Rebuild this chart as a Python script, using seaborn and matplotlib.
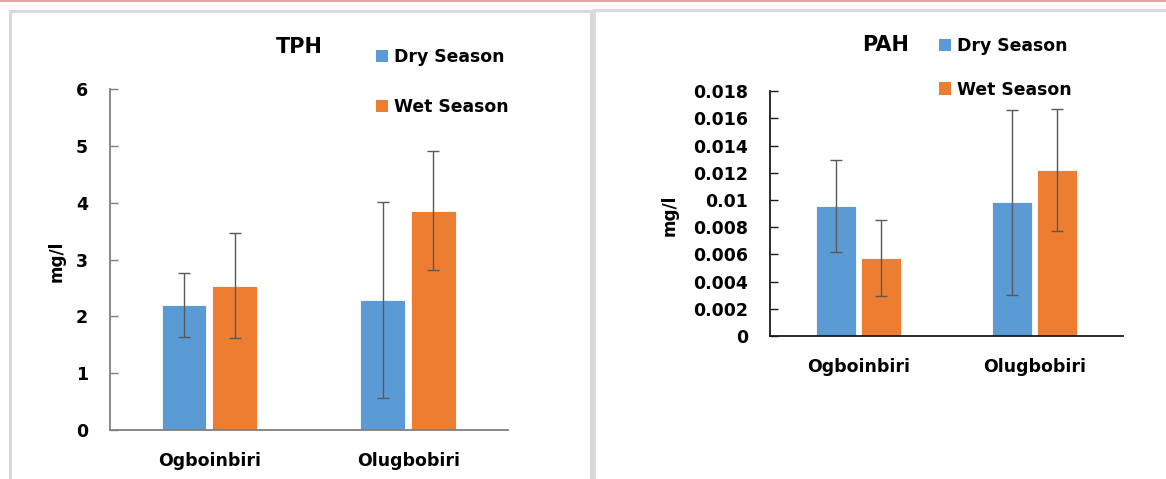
import matplotlib
matplotlib.use("Agg")
import matplotlib.pyplot as plt
from matplotlib.patches import Rectangle, Patch
from matplotlib.lines import Line2D
from matplotlib.ticker import FuncFormatter, MultipleLocator
import seaborn as sns
import pandas as pd

# ---- data ----
sites = ["Ogboinbiri", "Olugbobiri"]
seasons = ["Dry Season", "Wet Season"]

tph_dry = [2.20, 2.29]
tph_wet = [2.54, 3.86]
tph_dry_err = [0.56, 1.72]
tph_wet_err = [0.93, 1.05]

pah_dry = [0.00956, 0.00983]
pah_wet = [0.00576, 0.01221]
pah_dry_err = [0.0034, 0.0068]
pah_wet_err = [0.0028, 0.0045]

colors = ["#5B9BD5", "#ED7D31"]
font = "DejaVu Sans"

sns.set_theme(style="white")
plt.rcParams["font.family"] = [font]
plt.rcParams["font.weight"] = "bold"
plt.rcParams["text.color"] = "black"

W, H = 1166, 479
fig = plt.figure(figsize=(W / 100, H / 100), dpi=100)


def fx(px):
    return px / W


def fy(py):
    return 1 - py / H


# panel frames and top rule
frame_kw = dict(transform=fig.transFigure, fill=False, edgecolor="#d9d9d9",
                lw=2.2)
fig.patches.append(Rectangle((fx(9.5), fy(495)), fx(582), fy(11) - fy(495),
                             **frame_kw))
fig.patches.append(Rectangle((fx(594), fy(495)), fx(600), fy(10) - fy(495),
                             **frame_kw))
fig.lines.append(Line2D([0, 1], [fy(0.8), fy(0.8)], transform=fig.transFigure,
                        color="#e88f8f", lw=1.2))

TICK_FS = 12.5


def panel(rect, dry, wet, dry_err, wet_err, ymax, ystep, axis_color, fmt):
    ax = fig.add_axes(rect)
    df = pd.DataFrame({
        "site": sites * 2,
        "season": [seasons[0]] * 2 + [seasons[1]] * 2,
        "value": dry + wet,
    })
    sns.barplot(data=df, x="site", y="value", hue="season", order=sites,
                hue_order=seasons, palette=colors, width=0.51, gap=0.12,
                errorbar=None, legend=False, ax=ax, saturation=1,
                edgecolor="white", linewidth=0.6)
    for cont, vals, errs in zip(ax.containers, [dry, wet], [dry_err, wet_err]):
        xs = [p.get_x() + p.get_width() / 2 for p in cont.patches]
        ax.errorbar(xs, vals, yerr=errs, fmt="none", ecolor="#595959",
                    elinewidth=1.0, capsize=4, capthick=1.0, zorder=5)
    ax.set_xlim(-0.5, 1.5)
    ax.set_ylim(0, ymax)
    ax.yaxis.set_major_locator(MultipleLocator(ystep))
    ax.yaxis.set_major_formatter(FuncFormatter(fmt))
    ax.set_xlabel("")
    ax.set_ylabel("")
    for s in ["top", "right"]:
        ax.spines[s].set_visible(False)
    for s in ["left", "bottom"]:
        ax.spines[s].set_color(axis_color)
        ax.spines[s].set_linewidth(1.3)
    ax.tick_params(axis="y", direction="in", length=6, width=1.0,
                   color=axis_color, left=True, labelsize=TICK_FS, pad=16)
    ax.tick_params(axis="x", bottom=False, labelsize=TICK_FS, pad=10)
    for lab in ax.get_xticklabels() + ax.get_yticklabels():
        lab.set_fontweight("bold")
        lab.set_color("black")
    return ax


ax1 = panel([fx(110), fy(430), fx(397.5), fy(89) - fy(430)],
            tph_dry, tph_wet, tph_dry_err, tph_wet_err, 6, 1, "#808080",
            lambda v, p: f"{v:g}")
ax2 = panel([fx(770), fy(336), fx(353), fy(91.3) - fy(336)],
            pah_dry, pah_wet, pah_dry_err, pah_wet_err, 0.018, 0.002, "#1a1a1a",
            lambda v, p: "0" if abs(v) < 1e-12 else f"{v:.3f}".rstrip("0"))

# titles and axis labels
fig.text(fx(299), fy(47), "TPH", ha="center", va="center", fontsize=15,
         fontweight="bold", color="black")
fig.text(fx(886), fy(45), "PAH", ha="center", va="center", fontsize=15,
         fontweight="bold", color="black")
fig.text(fx(57), fy(261), "mg/l", rotation=90, ha="center", va="center",
         fontsize=12.2, fontweight="bold", color="black")
fig.text(fx(670), fy(215), "mg/l", rotation=90, ha="center", va="center",
         fontsize=12.2, fontweight="bold", color="black")

# legends
handles = [Patch(facecolor=c, edgecolor="none") for c in colors]
for x0, y0, spacing in [(367, 47, 1.84), (930, 36, 1.48)]:
    leg = fig.legend(handles, seasons, loc="upper left",
                     bbox_to_anchor=(fx(x0) - 0.006, fy(y0) + 0.03),
                     frameon=False, handlelength=0.75, handleheight=0.75,
                     handletextpad=0.35, labelspacing=spacing,
                     prop={"family": font, "weight": "bold", "size": 12.4})
    for t in leg.get_texts():
        t.set_color("black")

fig.savefig("out.png", dpi=100)
